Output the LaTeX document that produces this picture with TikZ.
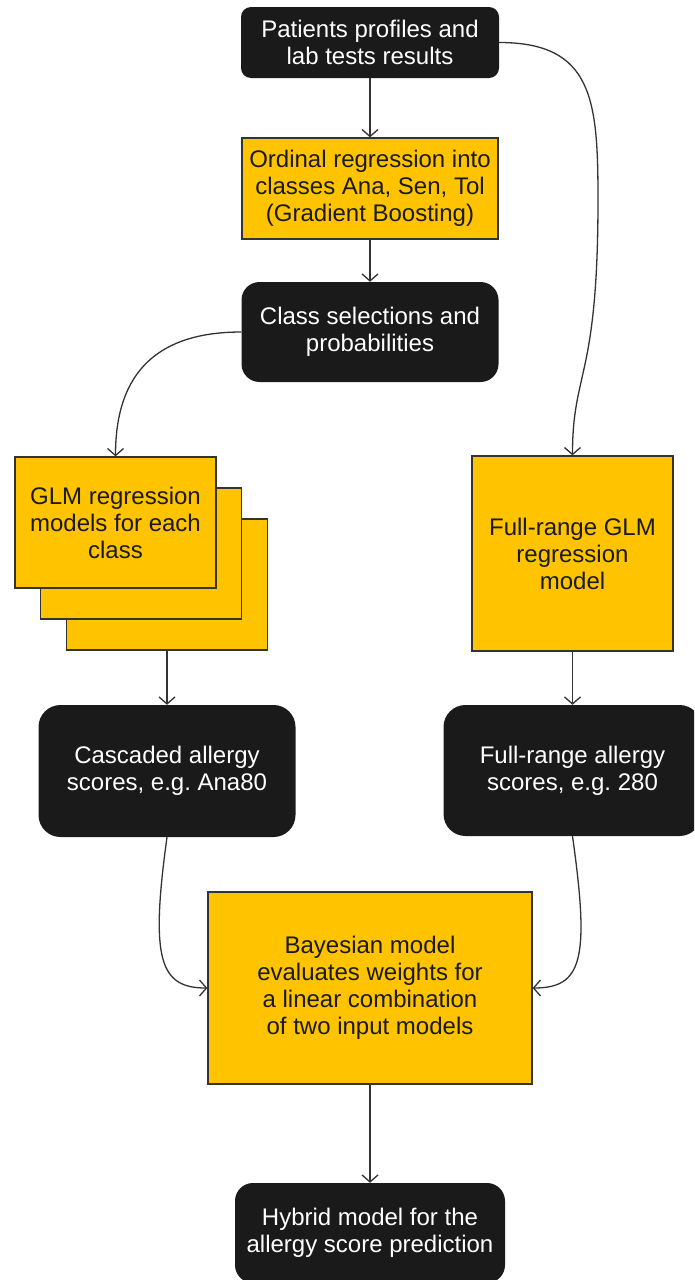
\documentclass[tikz,border=0pt]{standalone}
\usepackage{fontspec}
\setmainfont{Liberation Sans}
\usetikzlibrary{arrows.meta}
\definecolor{miroorange}{HTML}{FFC300}
\definecolor{miroblack}{HTML}{1A1A1A}
\definecolor{linegray}{HTML}{333333}
\frenchspacing
\begin{document}
\begin{tikzpicture}[x=1pt,y=-1pt,
  boxtext/.style={align=center, font=\fontsize{24}{27}\selectfont, inner sep=0pt},
  darkbox/.style={boxtext, fill=miroblack, draw=none, rounded corners=18pt, text=white},
  orangebox/.style={boxtext, fill=miroorange, draw=linegray, line width=1.3pt, text=miroblack},
  conn/.style={draw=linegray, line width=1.3pt, -{Straight Barb[length=7pt,width=16pt]}}]
\fill[white] (0,0) rectangle (694,1280);
\useasboundingbox (0,0) rectangle (694,1280);
\clip (0,0) rectangle (694,1280);

\node[darkbox, rounded corners=10pt, minimum width=258pt, minimum height=71pt] (top) at (370,42.5)
  {Patients profiles and\\lab tests results};
\node[orangebox, minimum width=256pt, minimum height=101pt] (ord) at (370,188.5)
  {Ordinal regression into\\classes Ana, Sen, Tol\\(Gradient Boosting)};
\node[darkbox, minimum width=257pt, minimum height=100pt] (cls) at (370,332)
  {Class selections and\\probabilities};

\node[orangebox, minimum width=201pt, minimum height=131pt] (back) at (167,584.5) {};
\node[orangebox, minimum width=201pt, minimum height=131pt] (middle) at (141,553.5) {};
\node[orangebox, minimum width=201pt, minimum height=131pt] (front) at (115.5,522.5)
  {GLM regression\\models for each\\class};

\node[orangebox, minimum width=201pt, minimum height=195pt] (glm) at (572.5,553.5)
  {Full-range GLM\\regression\\model};

\node[darkbox, rounded corners=22pt, minimum width=257pt, minimum height=132pt] (casc) at (167,771)
  {Cascaded allergy\\scores, e.g. Ana80};
\node[darkbox, rounded corners=22pt, minimum width=258pt, minimum height=131pt] (full) at (572.5,770.5)
  {Full-range allergy\\scores, e.g. 280};

\node[orangebox, minimum width=324pt, minimum height=192pt] (bayes) at (370,988)
  {Bayesian model\\evaluates weights for\\a linear combination\\of two input models};

\node[darkbox, minimum width=270pt, minimum height=100pt] (hyb) at (370,1233)
  {Hybrid model for the\\allergy score prediction};

\draw[conn] (top.south) -- (ord.north);
\draw[conn] (ord.south) -- (cls.north);
\draw[conn] (top.east) .. controls (593,42.5) and (598,100) .. (598,200)
  .. controls (598,380) and (572.5,370) .. (glm.north);
\draw[conn] (cls.west) .. controls (160,332) and (115.5,370) .. (front.north);
\draw[conn] (back.south) -- (casc.north);
\draw[conn] (glm.south) -- (full.north);
\draw[conn] (casc.south) .. controls (150,960) and (160,988) .. (bayes.west);
\draw[conn] (full.south) .. controls (590,960) and (582,988) .. (bayes.east);
\draw[conn] (bayes.south) -- (hyb.north);
\end{tikzpicture}
\end{document}
